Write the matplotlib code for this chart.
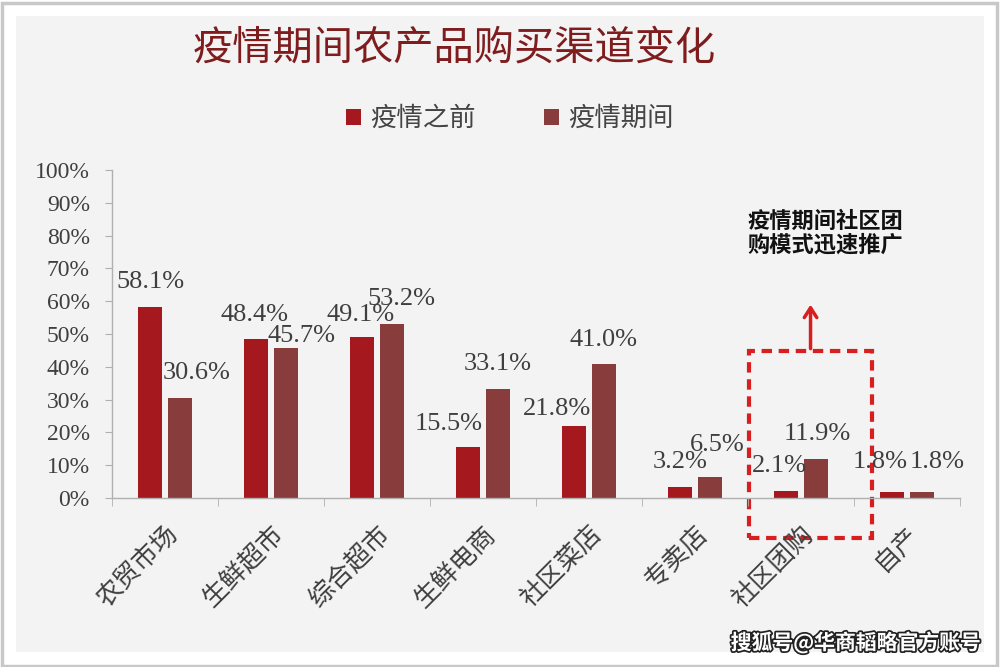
import numpy as np
import matplotlib.pyplot as plt
import matplotlib.patheffects as pe
from matplotlib.patches import Rectangle

# data
categories = ['农贸市场', '生鲜超市', '综合超市', '生鲜电商', '社区菜店', '专卖店', '社区团购', '自产']
before = [58.1, 48.4, 49.1, 15.5, 21.8, 3.2, 2.1, 1.8]
during = [30.6, 45.7, 53.2, 33.1, 41.0, 6.5, 11.9, 1.8]
series_names = ['疫情之前', '疫情期间']
y_ticks = [0, 10, 20, 30, 40, 50, 60, 70, 80, 90, 100]

# label nudges in pixels (dx, dy above bar top)
before_off = [(0, 25), (-1, 24), (-1, 22), (-19, 23), (-17, 17), (0, 25), (-7, 25), (-12, 30)]
during_off = [(17, 25), (15, 12), (9, 25), (0, 25), (-1, 24), (7, 32), (1, 25), (15, 30)]

CJK = ['Noto Sans CJK SC', 'DejaVu Sans']
SERIF = ['Liberation Serif', 'DejaVu Serif']
c1 = '#A5191E'
c2 = '#883C3C'
txt = '#3F3F3F'

fig = plt.figure(figsize=(10, 6.67), dpi=100)
fig.patch.set_facecolor('white')
# outer frame + inner panel
fig.patches.append(Rectangle((0.0015, 0.002), 0.995, 0.994, transform=fig.transFigure,
                             fill=False, ec='#C8C8C8', lw=2.5))
fig.patches.append(Rectangle((0.016, 0.023), 0.968, 0.953, transform=fig.transFigure,
                             fc='#F3F3F3', ec='none', zorder=-1))

ax = fig.add_axes([0.112, 0.2534, 0.848, 0.4917])
ax.set_facecolor('none')

x = np.arange(len(categories))
w = 0.22
b1 = ax.bar(x - 0.142, before, w, color=c1, label=series_names[0])
b2 = ax.bar(x + 0.142, during, w, color=c2, label=series_names[1])

for bars, vals, offs in [(b1, before, before_off), (b2, during, during_off)]:
    for r, v, (dx, dy) in zip(bars, vals, offs):
        ax.annotate(f'{v:.1f}%', (r.get_x() + r.get_width() / 2, v),
                    xytext=(dx, dy), textcoords='offset pixels',
                    ha='center', va='center', fontsize=19, family=SERIF, color=txt)

ax.set_xlim(-0.5, len(categories) - 0.5)
ax.set_ylim(0, 100)
ax.set_yticks(y_ticks)
ax.set_yticklabels([f'{t}%' for t in y_ticks], family=SERIF, fontsize=17, color=txt)
ax.set_xticks(x)
ax.set_xticklabels(categories, family=CJK, fontsize=18.5, color=txt,
                   rotation=45, ha='right', rotation_mode='anchor')
ax.set_xticks(np.arange(len(categories) + 1) - 0.5, minor=True)
ax.tick_params(axis='x', which='major', length=0, pad=17)
ax.tick_params(axis='x', which='minor', length=6, color='#B0B0B0', direction='out')
ax.tick_params(axis='y', length=5, color='#B0B0B0', direction='out', pad=11)
for s in ['top', 'right']:
    ax.spines[s].set_visible(False)
for s in ['left', 'bottom']:
    ax.spines[s].set_color('#B0B0B0')
    ax.spines[s].set_linewidth(1.0)

# highlight box and arrow
red = '#D81E1E'
ax.add_patch(Rectangle((5.51, -12.2), 1.16, 56.9, fill=False, ec=red, lw=3,
                       ls=(0, (2.5, 1.6)), clip_on=False))
ax.annotate('', xy=(6.09, 59.8), xytext=(6.09, 44.7),
            arrowprops=dict(arrowstyle='->,head_length=0.7,head_width=0.45', color=red, lw=2.5),
            annotation_clip=False)
ax.text(6.23, 84.2, '疫情期间社区团', ha='center', va='center', fontsize=16,
        fontweight='bold', family=CJK, color='#111111')
ax.text(6.23, 77.2, '购模式迅速推广', ha='center', va='center', fontsize=16,
        fontweight='bold', family=CJK, color='#111111')

# title and legend
fig.text(0.454, 0.928, '疫情期间农产品购买渠道变化', ha='center', va='center',
         fontsize=29, family=CJK, color='#7E1C1E')
fig.legend(handles=[b1, b2], labels=series_names, loc='center', bbox_to_anchor=(0.51, 0.822),
           ncol=2, frameon=False, handlelength=0.55, handleheight=0.55, handletextpad=0.35,
           columnspacing=2.6, prop={'family': CJK, 'size': 19}, labelcolor='#444444')

# watermark
fig.text(0.856, 0.037, '搜狐号@华商韬略官方账号', ha='center', va='center', fontsize=15,
         family=CJK, color='white', fontweight='bold',
         path_effects=[pe.withStroke(linewidth=2.5, foreground='#222222')])

fig.savefig('out.png', dpi=100)
